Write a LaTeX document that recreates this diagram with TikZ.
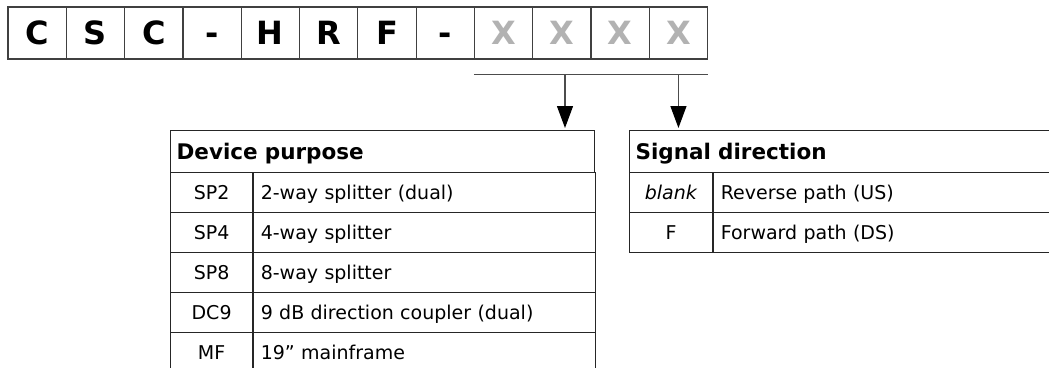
\documentclass[tikz,border=0pt]{standalone}
\usepackage{fontspec}
\setmainfont{DejaVu Sans}
\usetikzlibrary{positioning, arrows.meta}

\newcommand\cellfont{\fontsize{19}{23}\selectfont}
\newcommand\headfont{\fontsize{21.5}{26}\selectfont\bfseries}
\newcommand\codefont{\fontsize{32}{36}\selectfont\bfseries}

\tikzset{
  letterbox/.style={draw=black!75, line width=1.2pt, minimum width=58.3pt, minimum height=52pt,
    inner sep=0pt, text height=23.5pt, text depth=0pt, font=\codefont},
  headcell/.style={draw=black!85, line width=1.2pt, anchor=north west, minimum height=42pt,
    inner xsep=6pt, inner ysep=0pt, align=left, text height=15.5pt, text depth=0pt, font=\headfont},
  keycell/.style={draw=black!85, line width=1.2pt, anchor=north west, minimum width=#1,
    minimum height=40pt, inner sep=0pt, text height=14pt, text depth=0pt, font=\cellfont},
  desccell/.style={draw=black!85, line width=1.2pt, anchor=north west, minimum height=40pt,
    inner xsep=7pt, inner ysep=0pt, align=left, text height=14pt, text depth=0pt, font=\cellfont},
  pointer/.style={draw=black!70, line width=1.2pt,
    -{Triangle[width=16pt,length=22pt,color=black]}, shorten >=2pt},
}

\begin{document}
\begin{tikzpicture}[x=1pt, y=-1pt]
  \useasboundingbox (0,0) rectangle (1049,367);
  \clip (0,0) rectangle (1049,367);

  % code letters
  \foreach \ch [count=\i] in {C,S,C,-,H,R,F,-}
    \node[letterbox] (c\i) at ({8+(\i-0.5)*58.3},33) {\ch};
  \foreach \i in {9,...,12}
    \node[letterbox, text=black!30] (c\i) at ({8+(\i-0.5)*58.3},33) {X};

  % bracket bar and pointers
  \coordinate[below=15pt of c9.south west] (barL);
  \coordinate (barR) at (barL -| c12.south east);
  \draw[draw=black!70, line width=1.2pt] (barL) -- (barR);
  \coordinate (tapA) at (565,0 |- barL);
  \coordinate (tapB) at (barL -| c12.center);

  % device purpose
  \node[headcell, text width=412pt] (purpose) at (170,130) {Device purpose};
  \foreach \k/\d [count=\r] in {SP2/2-way splitter (dual), SP4/4-way splitter, SP8/8-way splitter,
      DC9/9 dB direction coupler (dual), MF/19” mainframe} {
    \node[keycell=82pt] (pk\r) at (170,{172+40*(\r-1)}) {\k};
    \node[desccell, text width=328pt] (pd\r) at (pk\r.north east) {\d};
  }

  % signal direction
  \node[headcell, text width=419pt] (signal) at (629,130) {Signal direction};
  \node[keycell=83pt] (sk1) at (629,172) {\textit{blank}};
  \node[desccell, text width=334pt] (sd1) at (sk1.north east) {Reverse path (US)};
  \node[keycell=83pt] (sk2) at (629,212) {F};
  \node[desccell, text width=334pt] (sd2) at (sk2.north east) {Forward path (DS)};

  \draw[pointer] (tapA) -- (tapA |- purpose.north);
  \draw[pointer] (tapB) -- (tapB |- signal.north);
\end{tikzpicture}
\end{document}
